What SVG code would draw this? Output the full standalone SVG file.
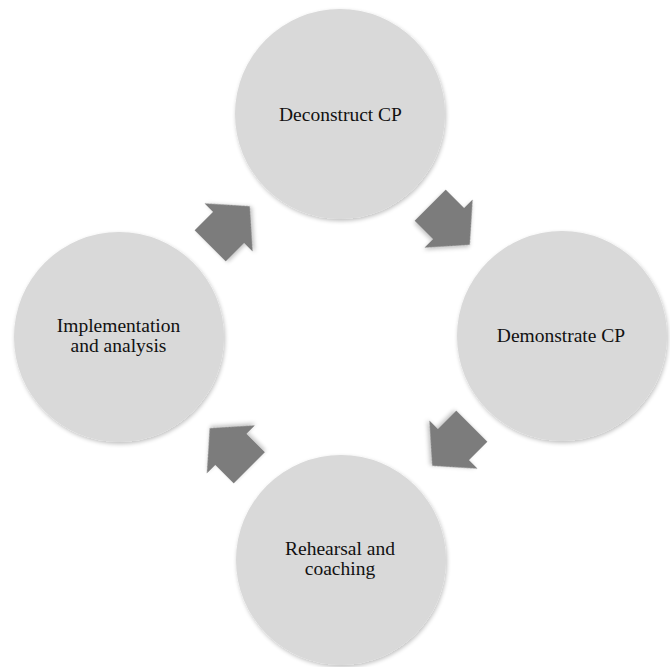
<svg xmlns="http://www.w3.org/2000/svg" width="670" height="667" viewBox="0 0 670 667">
<defs>
<filter id="sh" x="-20%" y="-20%" width="140%" height="140%">
<feGaussianBlur in="SourceAlpha" stdDeviation="2"/>
<feOffset dx="1" dy="2" result="b"/>
<feComponentTransfer><feFuncA type="linear" slope="0.25"/></feComponentTransfer>
<feMerge><feMergeNode/><feMergeNode in="SourceGraphic"/></feMerge>
</filter>
<polygon id="arr" points="28,0 -2,34 -2,22 -28,22 -28,-22 -2,-22 -2,-34"/>
</defs>
<style>
.c{fill:#d9d9d9;filter:url(#sh)}
.t{font-family:"Liberation Serif","DejaVu Serif",serif;font-size:19.5px;fill:#111111;text-anchor:middle}
.a{fill:#7b7b7b;filter:url(#sh)}
</style>
<rect width="670" height="667" fill="#ffffff"/>
<g id="connectors">
<use href="#arr" class="a" transform="translate(230,226) rotate(-45)"/>
<use href="#arr" class="a" transform="translate(450,225) rotate(45)"/>
<use href="#arr" class="a" transform="translate(452,446) rotate(135)"/>
<use href="#arr" class="a" transform="translate(229.5,448) rotate(-135)"/>
</g>
<g id="deconstruct">
<circle class="c" cx="340" cy="114" r="105"/>
<text class="t" x="340.5" y="120.5">Deconstruct CP</text>
</g>
<g id="demonstrate">
<circle class="c" cx="562" cy="336" r="105"/>
<text class="t" x="561" y="341.5">Demonstrate CP</text>
</g>
<g id="rehearsal">
<circle class="c" cx="341" cy="560" r="105"/>
<text class="t" x="340" y="554.5">Rehearsal and</text>
<text class="t" x="340" y="574.5">coaching</text>
</g>
<g id="implementation">
<circle class="c" cx="119" cy="337" r="105"/>
<text class="t" x="118.5" y="331.5">Implementation</text>
<text class="t" x="118.5" y="351.5">and analysis</text>
</g>
</svg>
